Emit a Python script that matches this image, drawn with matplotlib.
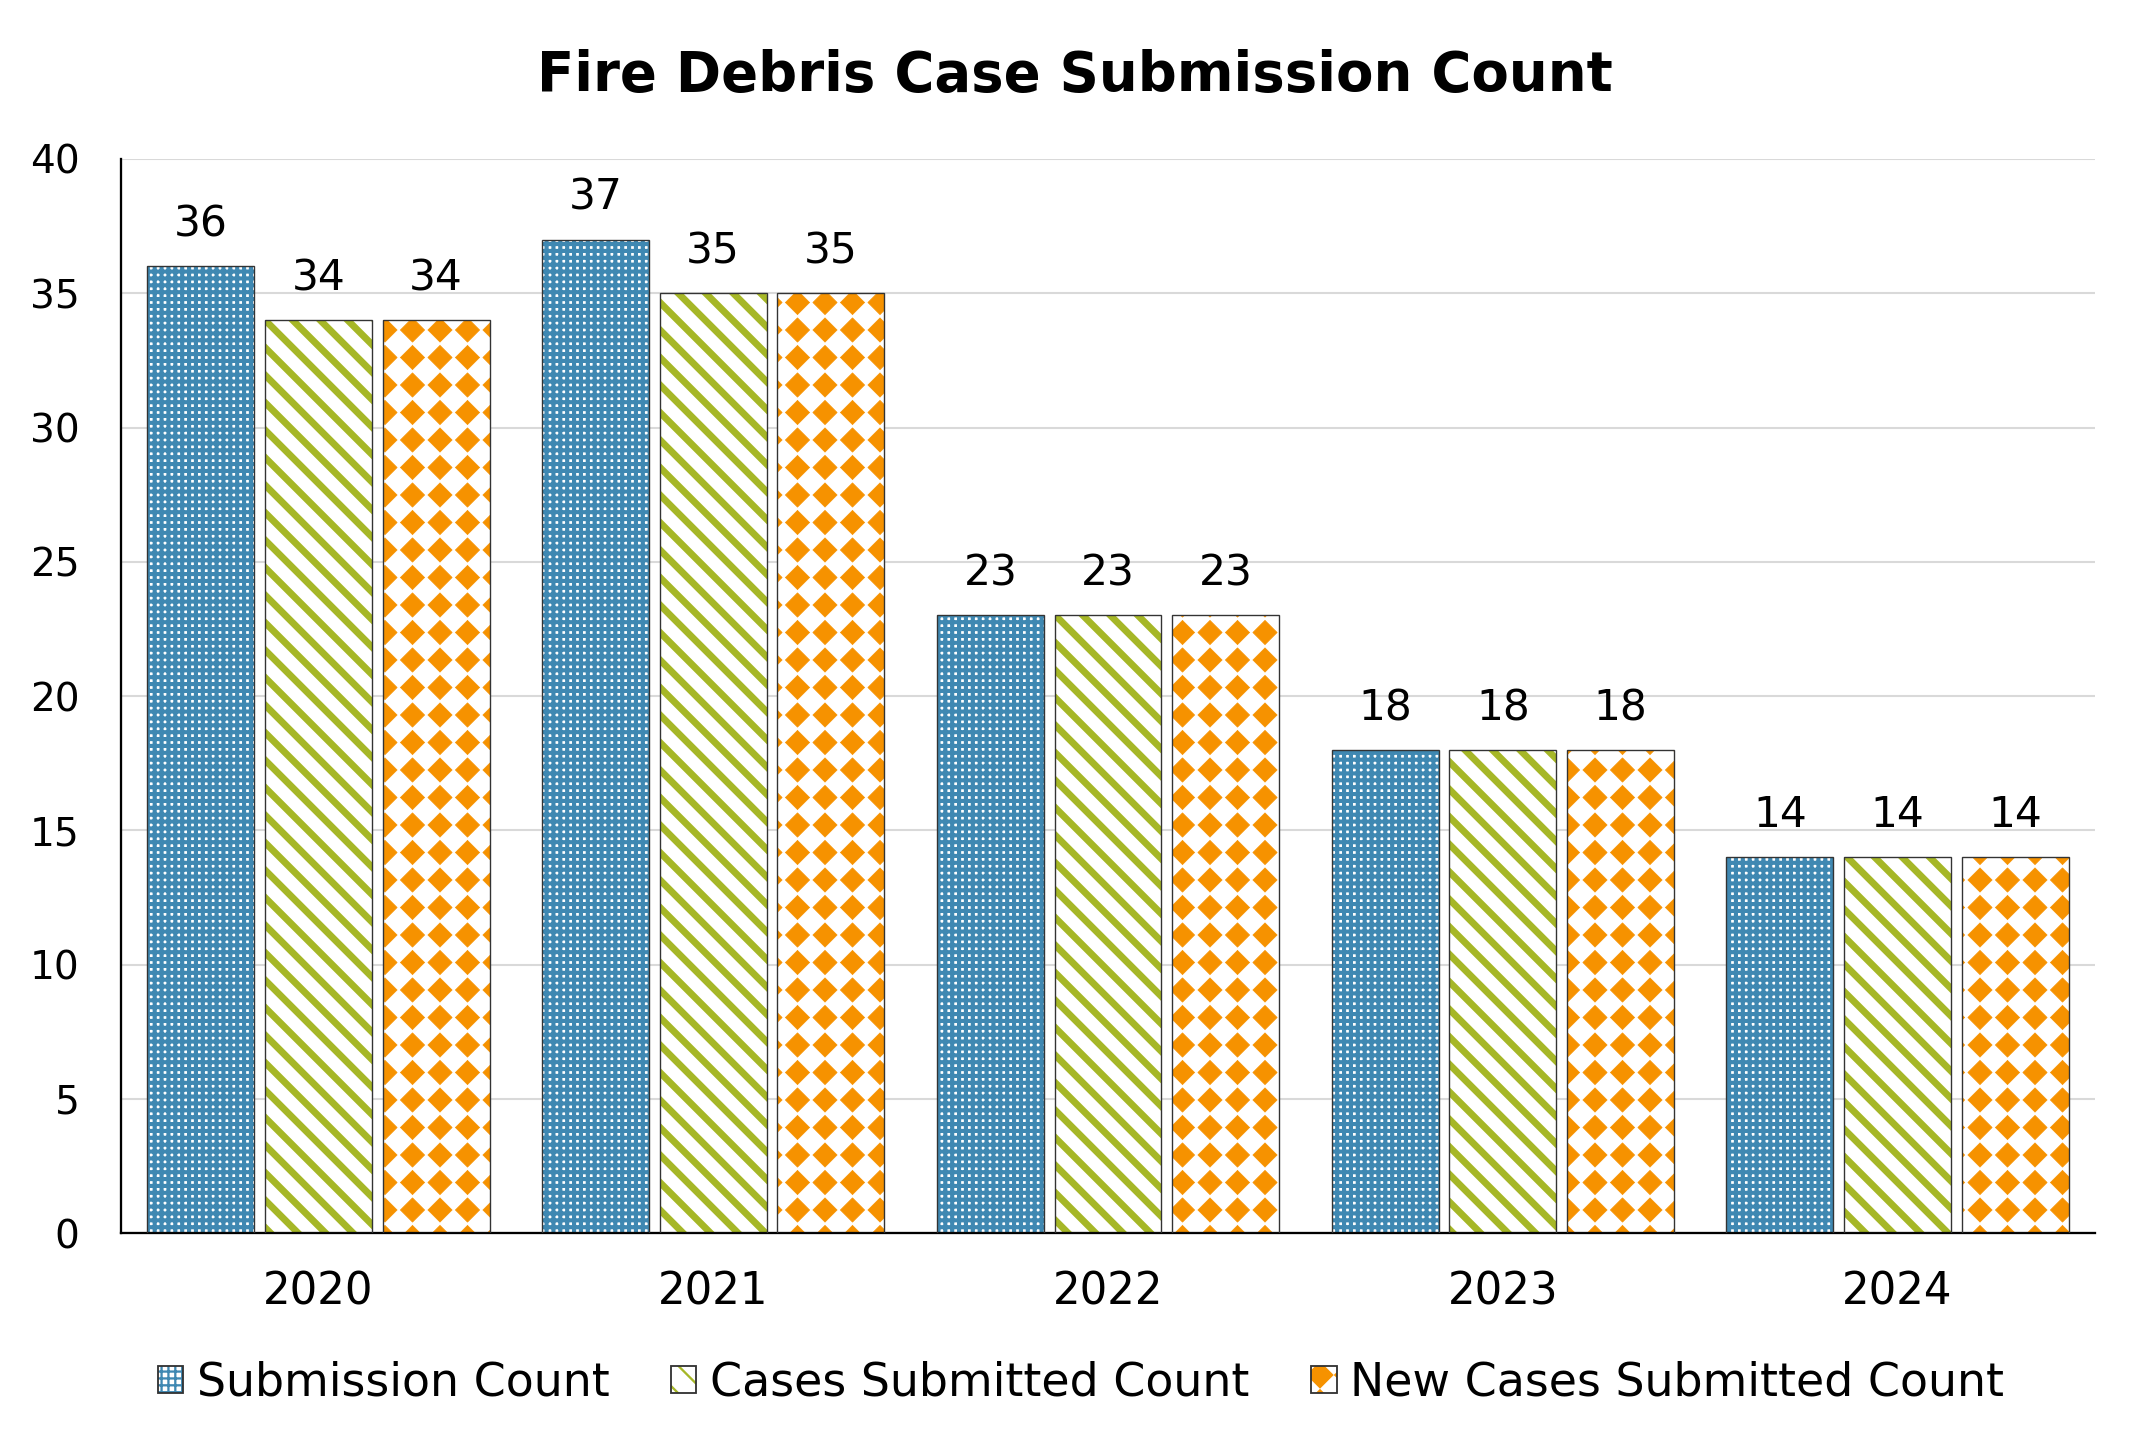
import numpy as np
import matplotlib
matplotlib.use('Agg')
import matplotlib.pyplot as plt
import matplotlib.hatch as mhatch
from matplotlib.path import Path
from matplotlib.legend_handler import HandlerTuple
from matplotlib.patches import Patch

# data
years = ['2020', '2021', '2022', '2023', '2024']
submission_count = [36, 37, 23, 18, 14]
cases_submitted = [34, 35, 23, 18, 14]
new_cases_submitted = [34, 35, 23, 18, 14]
series_names = ['Submission Count', 'Cases Submitted Count', 'New Cases Submitted Count']


# '*' hatch replaced by a square grid of filled diamonds (closer to the Excel pattern)
class DiamondHatch(mhatch.HatchPatternBase):
    def __init__(self, hatch, density):
        self.num_rows = int(hatch.count('*') * density)
        self.num_vertices = 5 * (self.num_rows + 1) ** 2 if self.num_rows else 0

    def set_vertices_and_codes(self, vertices, codes):
        step = 1.0 / self.num_rows
        r = 0.44 * step
        shape = np.array([[0, r], [-r, 0], [0, -r], [r, 0], [0, r]])
        pts = np.linspace(0, 1, self.num_rows + 1)
        cx, cy = np.meshgrid(pts, pts)
        centers = np.column_stack([cx.ravel(), cy.ravel()])
        vertices[:] = (centers[:, None, :] + shape[None, :, :]).reshape(-1, 2)
        codes[:] = np.tile([Path.MOVETO, Path.LINETO, Path.LINETO,
                            Path.LINETO, Path.CLOSEPOLY], len(centers))


mhatch._hatch_types[-1] = DiamondHatch

blue = '#3F88B2'
green = '#A6B727'
orange = '#F69200'
edge = '#333333'

fig = plt.figure(figsize=(13, 8.8), dpi=165)
ax = fig.add_axes([0.0564, 0.1508, 0.9203, 0.7397])

x = np.arange(len(years))
width = 0.271
step = 0.298

styles = [
    # face, hatch colour, hatch, hatch linewidth
    ('white', blue, '++++', 1.8),
    ('white', green, '\\\\', 3.0),
    ('white', orange, '*', 0.3),
]
values = [submission_count, cases_submitted, new_cases_submitted]

handles = []
for i, (vals, (face, hcol, hatch, hlw)) in enumerate(zip(values, styles)):
    pos = x + (i - 1) * step
    with plt.rc_context({'hatch.linewidth': hlw}):
        bars = ax.bar(pos, vals, width, color=face, edgecolor=hcol,
                      hatch=hatch, linewidth=0, zorder=2)
        for b in bars:
            if hasattr(b, 'set_hatch_linewidth'):
                b.set_hatch_linewidth(hlw)
        hp = Patch(facecolor=face, edgecolor=hcol, hatch=hatch, linewidth=0)
        if hasattr(hp, 'set_hatch_linewidth'):
            hp.set_hatch_linewidth(hlw)
    outline = ax.bar(pos, vals, width, fill=False, edgecolor=edge,
                     linewidth=0.6, zorder=3)
    ax.bar_label(outline, padding=9, fontsize=18.5)
    handles.append((hp, Patch(fill=False, edgecolor=edge, linewidth=0.8)))

ax.set_xlim(-0.5, 4.5)
ax.set_ylim(0, 40)
ax.set_yticks(range(0, 41, 5))
ax.set_xticks(x)
ax.set_xticklabels(years)
ax.tick_params(axis='y', length=0, pad=18, labelsize=17)
ax.tick_params(axis='x', length=0, pad=16.5, labelsize=19)
ax.grid(axis='y', color='#D9D9D9', linewidth=0.9, zorder=0)
ax.set_axisbelow(True)
for s in ['top', 'right']:
    ax.spines[s].set_visible(False)
ax.spines['left'].set_linewidth(1.0)
ax.spines['bottom'].set_linewidth(1.0)

fig.suptitle('Fire Debris Case Submission Count', x=0.501, y=0.948,
             va='center', fontsize=23.8, fontweight='bold')

fig.legend(handles, series_names, loc='center', bbox_to_anchor=(0.504, 0.0475),
           ncol=3, frameon=False, fontsize=20, handlelength=0.55,
           handleheight=0.55, handletextpad=0.3, columnspacing=1.35,
           handler_map={tuple: HandlerTuple(ndivide=1)})

fig.savefig('out.png', dpi=165)
